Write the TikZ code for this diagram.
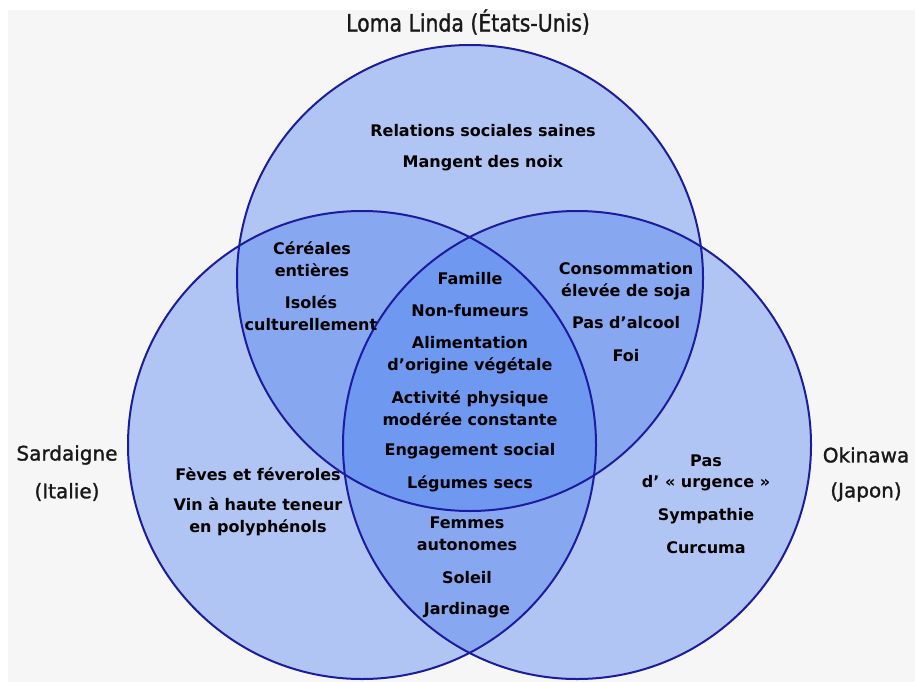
\documentclass[tikz,border=0pt]{standalone}
\usepackage{fontspec}
\setmainfont{DejaVu Sans}
\newfontfamily\titlefont[FakeStretch=0.85,FakeBold=1.2]{DejaVu Sans}
\newfontfamily\medfont[FakeBold=1.3]{DejaVu Sans}
\begin{document}
\begin{tikzpicture}[x=1pt,y=-1pt,
  circ/.style={fill=vfill,fill opacity=0.42},
  outl/.style={draw=vline,line width=2pt},
  lab/.style={font=\fontsize{16}{21.5}\selectfont\bfseries,align=center,text=black,inner sep=0pt,anchor=center},
  big/.style={font=\fontsize{20}{22}\medfont,align=center,text=black!90,inner sep=0pt},
]
\definecolor{vfill}{RGB}{80,130,240}
\definecolor{vline}{RGB}{28,28,160}
\definecolor{bg}{RGB}{246,246,246}
\useasboundingbox (0,0) rectangle (915,682);
\fill[white] (0,0) rectangle (915,682);
\fill[bg] (8,10) rectangle (915,682);
% circles
\coordinate (T) at (470,278);
\coordinate (L) at (362,445);
\coordinate (R) at (577,445);
\fill[circ] (T) circle (233);
\fill[circ] (L) circle (234);
\fill[circ] (R) circle (234);
\draw[outl] (T) circle (233);
\draw[outl] (L) circle (234);
\draw[outl] (R) circle (234);
% titles
\node[big,font=\fontsize{24}{26}\titlefont] (tt) at (468,22) {Loma Linda (États-Unis)};
\node[big] (sa1) at (67,455) {Sardaigne};
\node[big] (sa2) at (67,492) {(Italie)};
\node[big] (ok1) at (866,455) {Okinawa};
\node[big] (ok2) at (866,492) {(Japon)};
% top only
\node[lab] (t1) at (483,131) {Relations sociales saines};
\node[lab] (t2) at (483,163) {Mangent des noix};
% top-left
\node[lab] (tl1) at (312,259) {Céréales\\entières};
\node[lab] (tl2) at (311,313) {Isolés\\culturellement};
% top-right
\node[lab] (tr1) at (626,281) {Consommation\\élevée de soja};
\node[lab] (tr2) at (626,323) {Pas d’alcool};
\node[lab] (tr3) at (626,356) {Foi};
% centre
\node[lab] (c1) at (470,279) {Famille};
\node[lab] (c2) at (470,311) {Non-fumeurs};
\node[lab] (c3) at (470,355) {Alimentation\\d’origine végétale};
\node[lab] (c4) at (470,408) {Activité physique\\modérée constante};
\node[lab] (c5) at (470,451) {Engagement social};
\node[lab] (c6) at (470,484) {Légumes secs};
% bottom (left-right)
\node[lab] (b1) at (467,534) {Femmes\\autonomes};
\node[lab] (b2) at (467,578) {Soleil};
\node[lab] (b3) at (467,610) {Jardinage};
% left only
\node[lab] (l1) at (258,474) {Fèves et féveroles};
\node[lab] (l2) at (258,517) {Vin à haute teneur\\en polyphénols};
% right only
\node[lab] (r1) at (706,473) {Pas\\d’ « urgence »};
\node[lab] (r2) at (706,516) {Sympathie};
\node[lab] (r3) at (706,548) {Curcuma};
\end{tikzpicture}
\end{document}
